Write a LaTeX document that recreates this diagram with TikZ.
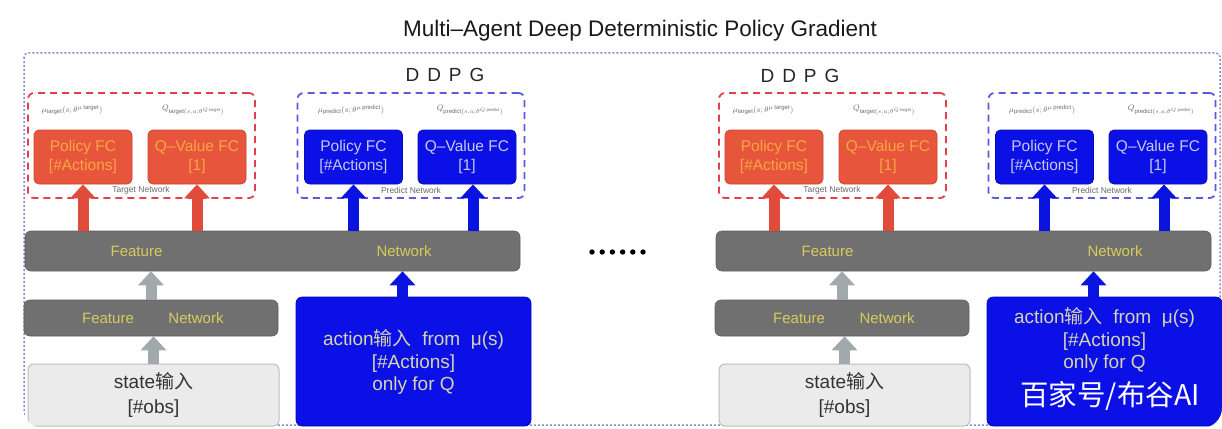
\documentclass[tikz,border=0pt]{standalone}
\usepackage{fontspec}
\setmainfont{Liberation Sans}
\setsansfont{Liberation Sans}
\newfontfamily\cjk{Noto Sans CJK SC}
\usetikzlibrary{arrows.meta}
\definecolor{redbox}{HTML}{E8553D}
\definecolor{redborder}{HTML}{C84634}
\definecolor{redtxt}{HTML}{F6A640}
\definecolor{reddash}{HTML}{E2404C}
\definecolor{bluebox}{HTML}{0A10E6}
\definecolor{blueborder}{HTML}{0A0AB0}
\definecolor{bluetxt}{HTML}{C8C8E8}
\definecolor{acttxt}{HTML}{D6D4B0}
\definecolor{bluedash}{HTML}{5A5AE0}
\definecolor{bargray}{HTML}{707070}
\definecolor{barborder}{HTML}{5E5E5E}
\definecolor{bartxtc}{HTML}{D8CC5C}
\definecolor{arrgray}{HTML}{A2A9AD}
\definecolor{arrred}{HTML}{E04B3C}
\definecolor{arrblue}{HTML}{0A14E0}
\definecolor{framec}{HTML}{8A8AD4}
\definecolor{stfill}{HTML}{EBEBEB}
\definecolor{stborder}{HTML}{BDBDBD}
\definecolor{lblgray}{HTML}{6A6A6A}
\tikzset{
  fcbase/.style={rectangle, rounded corners=5pt, line width=0.8pt, minimum width=98pt,
    minimum height=54pt, align=center, inner sep=0pt, font=\fontsize{15.5}{19}\selectfont},
  fcred/.style={fcbase, fill=redbox, draw=redborder, text=redtxt},
  fcblue/.style={fcbase, fill=bluebox, draw=blueborder, text=bluetxt},
  dashbox/.style={rectangle, rounded corners=6pt, line width=1.8pt, dash pattern=on 7pt off 5pt,
    minimum width=227pt, minimum height=105pt, inner sep=0pt},
  tgtbox/.style={dashbox, draw=reddash},
  prdbox/.style={dashbox, draw=bluedash},
  bar/.style={rectangle, rounded corners=6pt, fill=bargray, draw=barborder, line width=0.6pt, inner sep=0pt},
  bartxt/.style={text=bartxtc, font=\fontsize{15}{18}\selectfont, inner sep=0pt},
  statebox/.style={rectangle, rounded corners=6pt, fill=stfill, draw=stborder, line width=1pt,
    minimum width=251pt, minimum height=62pt, inner sep=0pt},
  sttxt/.style={text=black!80, font=\fontsize{19}{25}\selectfont, align=center, inner sep=0pt},
  actbox/.style={rectangle, rounded corners=6pt, fill=bluebox, draw=blueborder, line width=0.6pt,
    minimum width=235pt, minimum height=129pt, inner sep=0pt},
  acttext/.style={text=acttxt, font=\fontsize{19}{22.5}\selectfont, align=center, inner sep=0pt},
  upbase/.style={line width=11pt, -{Triangle[width=25pt,length=14pt]}},
  uparrowred/.style={upbase, draw=arrred},
  uparrowblue/.style={upbase, draw=arrblue},
  uparrowgray/.style={upbase, draw=arrgray},
  lbl/.style={text=lblgray, font=\fontsize{8.5}{10}\selectfont, inner sep=0pt},
  ddpg/.style={text=black!85, font=\fontsize{19}{22}\selectfont, inner sep=0pt},
}
\newcommand\myagent[3]{%
  \begin{scope}[xshift=#2pt]
    \node[tgtbox] (#1tgt) at (141.5,145.5) {};
    \node[prdbox] (#1prd) at (411,145.5) {};
    \node[fcred] (#1pr) at (83,157) {Policy FC\\{[\#Actions]}};
    \node[fcred] (#1qr) at (197,157) {Q–Value FC\\{[1]}};
    \node[fcblue] (#1pb) at (353.5,157) {Policy FC\\{[\#Actions]}};
    \node[fcblue] (#1qb) at (467,157) {Q–Value FC\\{[1]}};
    \node[lbl] (#1lmt) at (72,110) {$\mu_{\mathrm{target}}(s;\theta^{\mu\,\mathrm{target}})$};
    \node[lbl] (#1lqt) at (193,110) {$Q_{\mathrm{target}(s,a;\theta^{Q\,\mathrm{target}})}$};
    \node[lbl] (#1lmp) at (351,110) {$\mu_{\mathrm{predict}}(s;\theta^{\mu\,\mathrm{predict}})$};
    \node[lbl] (#1lqp) at (470,110) {$Q_{\mathrm{predict}(s,a;\theta^{Q\,\mathrm{predict}})}$};
    \node[lbl] (#1tn) at (141,190) {Target Network};
    \node[lbl] (#1pn) at (411,190) {Predict Network};
    \node[bar, minimum width=495pt, minimum height=40pt] (#1top) at (272.5,251) {};
    \node[bartxt] (#1topA) at (136.5,251) {Feature};
    \node[bartxt] (#1topB) at (#3,251) {Network};
    \node[bar, minimum width=254pt, minimum height=36pt] (#1mid) at (151,318) {};
    \node[bartxt] (#1midA) at (108,318) {Feature};
    \node[bartxt] (#1midB) at (196,318) {Network};
    \node[statebox] (#1st) at (153.5,395) {};
    \node[sttxt] (#1sttxt) at (153.5,395) {state{\cjk 输入}\\{[\#obs]}};
    \node[actbox] (#1act) at (413.5,361.5) {};
    \draw[uparrowred] (#1pr.south |- #1top.north) -- (#1pr.south);
    \draw[uparrowred] (#1qr.south |- #1top.north) -- (#1qr.south);
    \draw[uparrowblue] (#1pb.south |- #1top.north) -- (#1pb.south);
    \draw[uparrowblue] ([xshift=6pt]#1qb.south |- #1top.north) -- ([xshift=6pt]#1qb.south);
    \draw[uparrowgray] (#1mid.north) -- (#1mid.north |- #1top.south);
    \draw[uparrowgray] (#1st.north) -- (#1st.north |- #1mid.south);
    \draw[uparrowblue] ([xshift=-11pt]#1act.north) -- ([xshift=-11pt]#1act.north |- #1top.south);
  \end{scope}}
\begin{document}
\begin{tikzpicture}[x=1pt,y=-1pt]
  \useasboundingbox (0,0) rectangle (1222,428);
  \fill[white] (0,0) rectangle (1222,428);
  \node[text=black!90, font=\fontsize{22.5}{26}\selectfont, inner sep=0pt] (title) at (640,31)
    {Multi–Agent Deep Deterministic Policy Gradient};
  \draw[framec, line width=1.5pt, dash pattern=on 2pt off 2pt, rounded corners=4pt]
    (24,53) rectangle (1220,425);
  \myagent{L}{0}{404}
  \myagent{R}{691}{424}
  \node[ddpg] (ddpgL) at (445,75) {D\kern8pt D\kern8pt P\kern8pt G};
  \node[ddpg] (ddpgR) at (800,76) {D\kern8pt D\kern8pt P\kern8pt G};
  \node[acttext] (actL) at (413.5,362) {action{\cjk 输入}\ \ from\ \ μ(s)\\{[\#Actions]}\\only for Q};
  \node[acttext] (actR) at (1104.5,340) {action{\cjk 输入}\ \ from\ \ μ(s)\\{[\#Actions]}\\only for Q};
  \node[text=white, font=\cjk\fontsize{28.5}{31}\selectfont, inner sep=0pt] (wm) at (1110,396) {百家号/布谷AI};
  \foreach \k in {0,...,5} { \fill[black] (592+10.2*\k,252) circle (2.7pt); }
  % rounded bottom corners of the screenshot
  \fill[white] (0,428) -- (0,395) -- (23,395) -- (23,408) arc[start angle=180, end angle=90, radius=20] -- cycle;
  \fill[white] (1222,428) -- (1222,408) arc[start angle=0, end angle=90, radius=20] -- cycle;
\end{tikzpicture}
\end{document}
